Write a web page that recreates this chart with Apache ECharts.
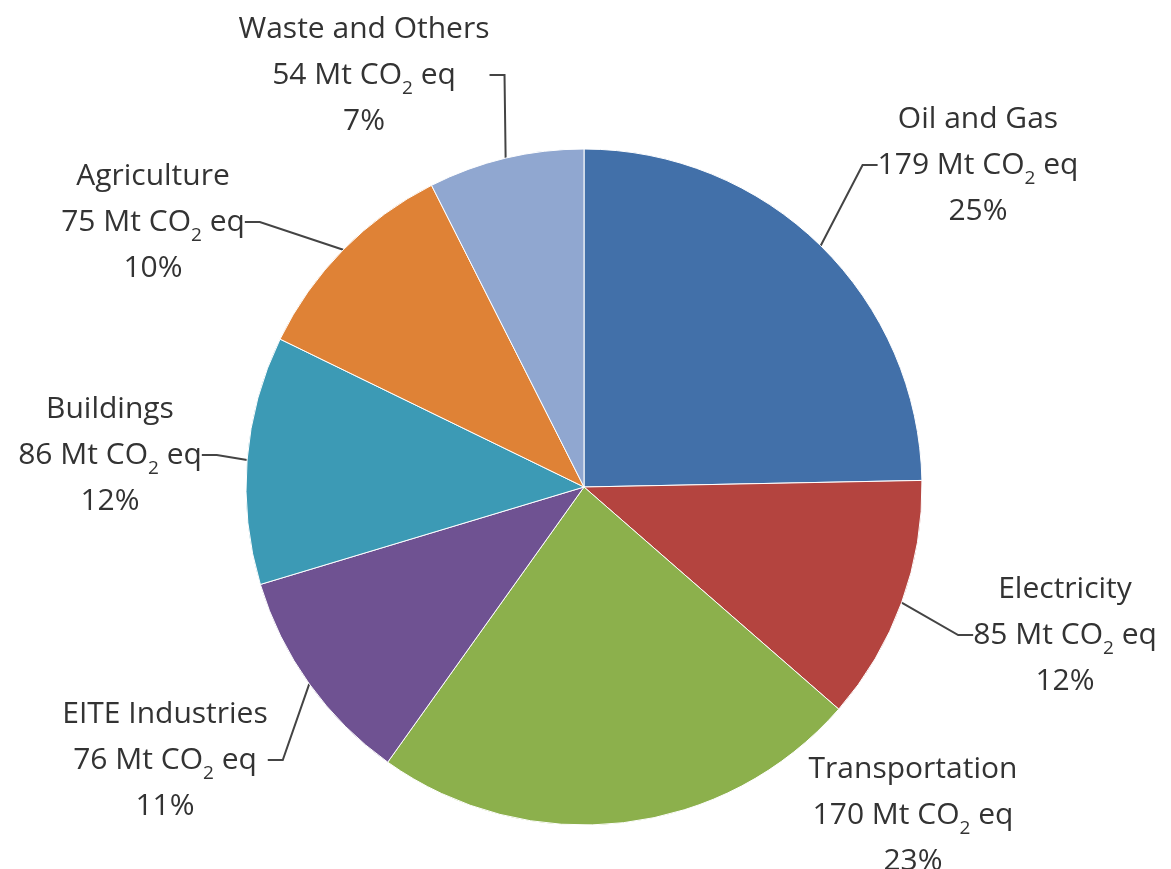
<!DOCTYPE html>
<html>
<head>
<meta charset="utf-8">
<script src="https://cdn.jsdelivr.net/npm/echarts@6/dist/echarts.min.js"></script>
<style>
html,body{margin:0;padding:0;background:#fff;}
#c{width:1171px;height:869px;}
</style>
</head>
<body>
<div id="c"></div>
<script>
const categories = ['Oil and Gas', 'Electricity', 'Transportation', 'EITE Industries', 'Buildings', 'Agriculture', 'Waste and Others'];
const emissions = [179, 85, 170, 76, 86, 75, 54];
const percentLabels = ['25%', '12%', '23%', '11%', '12%', '10%', '7%'];
const colors = ['#4270A9', '#B4443F', '#8CB04C', '#6F5292', '#3C9AB5', '#DF8236', '#90A7D0'];
const labelAnchors = [[978, 165], [1065, 635], [913, 815], [165, 760], [110, 455], [153, 222], [364, 75]];

const FONT = 'Open Sans';
const chart = echarts.init(document.getElementById('c'));
chart.setOption({
  animation: false,
  backgroundColor: '#ffffff',
  series: [{
    type: 'pie',
    center: [584, 487],
    radius: 338,
    startAngle: 90,
    clockwise: true,
    avoidLabelOverlap: false,
    itemStyle: { borderColor: '#ffffff', borderWidth: 1 },
    label: {
      show: true,
      position: 'outside',
      color: '#333333',
      fontFamily: FONT,
      fontSize: 30,
      lineHeight: 46,
      align: 'center',
      formatter: function (p) {
        return '{a|' + p.name + '}\n{a|' + p.value + ' Mt CO}{s|2}{a| eq}\n{a|' + percentLabels[p.dataIndex] + '}';
      },
      rich: {
        a: { fontFamily: FONT, fontSize: 30, lineHeight: 46, color: '#333333' },
        s: { fontFamily: FONT, fontSize: 19, lineHeight: 46, color: '#333333', verticalAlign: 'bottom', padding: [16, 0, 0, 0] }
      }
    },
    labelLine: {
      show: true,
      length: 20,
      length2: 15,
      lineStyle: { color: '#444', width: 2 }
    },
    labelLayout: function (params) {
      const a = labelAnchors[params.dataIndex];
      return { x: a[0], y: a[1], align: 'center', verticalAlign: 'middle' };
    },
    data: categories.map((n, i) => ({
      name: n,
      value: emissions[i],
      itemStyle: { color: colors[i] },
      labelLine: { show: n !== 'Transportation' }
    }))
  }]
});
</script>
</body>
</html>
